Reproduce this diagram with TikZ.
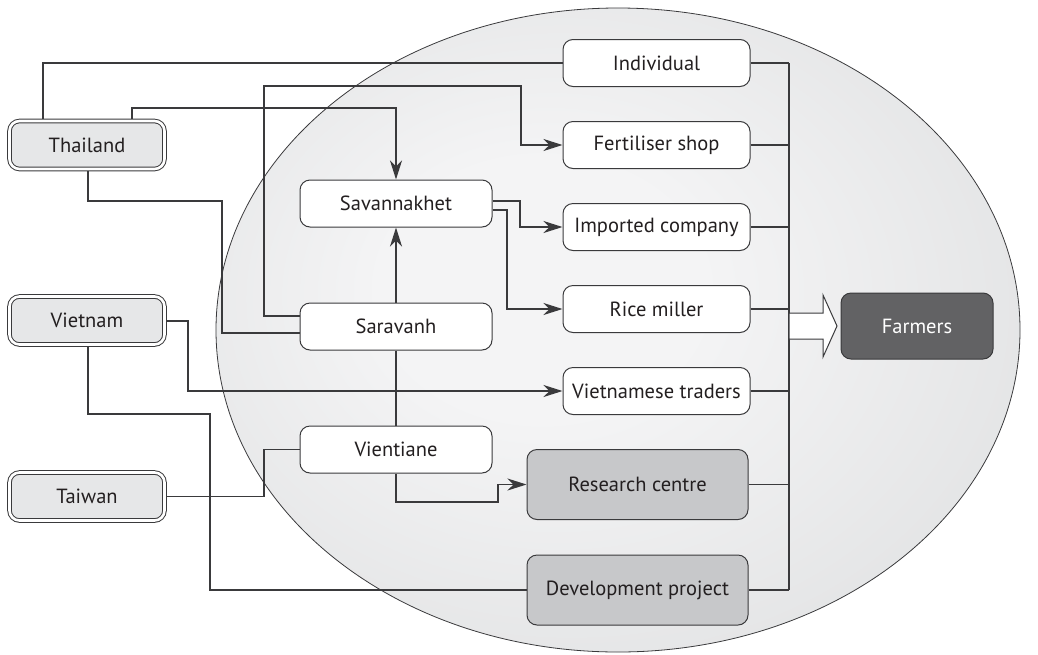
\documentclass[tikz,border=0pt]{standalone}
\usepackage{fontspec}
\setmainfont{PT Sans}
\usetikzlibrary{arrows.meta}
\definecolor{ln}{HTML}{3A3A3C}
\definecolor{tx}{HTML}{231F20}
\definecolor{gfill}{HTML}{C7C8CA}
\definecolor{cfill}{HTML}{E6E7E8}
\definecolor{dark}{HTML}{626264}
\definecolor{eA}{HTML}{F4F4F5}
\definecolor{eB}{HTML}{E0E1E2}
\definecolor{eC}{HTML}{C3C4C6}
\pgfdeclareradialshading{ellshade}{\pgfpoint{-6bp}{4bp}}{color(0bp)=(eA); color(10bp)=(eA); color(34bp)=(eB); color(50bp)=(eC)}
\pgfdeclarelayer{back}
\pgfdeclarelayer{mid}
\pgfsetlayers{back,mid,main}
\tikzset{
  cn/.style={draw=ln, line width=1.3pt},
  arr/.style={cn, -{Stealth[length=19pt,width=12pt,inset=6pt]}},
  rbox/.style={rounded corners=10pt, draw=ln, line width=1pt, inner sep=0pt, font=\fontsize{20.5}{23}\selectfont, text=tx},
  wbox/.style={rbox, fill=white, minimum width=187pt, minimum height=47pt},
  cityb/.style={rbox, fill=white, minimum width=192pt, minimum height=47pt},
  gbox/.style={rbox, fill=gfill, minimum width=221pt, minimum height=70pt},
  cbox/.style={rbox, fill=cfill, double=white, double distance=2.6pt, minimum width=155pt, minimum height=48pt},
  fbox/.style={rbox, fill=dark, text=white, minimum width=152pt, minimum height=66pt},
}
\begin{document}
\begin{tikzpicture}[x=1pt,y=-1pt]
\useasboundingbox (0,0) rectangle (1038,654);
\begin{pgfonlayer}{back}
\shade[shading=ellshade, draw=ln, line width=0.8pt] (618,330) ellipse [x radius=402, y radius=322];
\end{pgfonlayer}

% countries
\node[cbox] (tha) at (87,145) {Thailand};
\node[cbox] (vtn) at (87,320.5) {Vietnam};
\node[cbox] (twn) at (87,496.5) {Taiwan};

% provinces
\node[cityb] (sav) at (396,203.5) {Savannakhet};
\node[cityb] (sar) at (396,326.5) {Saravanh};
\node[cityb] (vie) at (396,449.5) {Vientiane};

% channels
\node[wbox] (ind) at (656.5,63) {Individual};
\node[wbox] (fert) at (656.5,145) {Fertiliser shop};
\node[wbox] (imp) at (656.5,227) {Imported company};
\node[wbox] (rice) at (656.5,309) {Rice miller};
\node[wbox] (vtr) at (656.5,391) {Vietnamese traders};
\node[gbox] (res) at (637.5,484.5) {Research centre};
\node[gbox] (dev) at (637.5,590) {Development project};

\node[fbox] (far) at (917,326) {Farmers};

\coordinate (busT) at (789,63);
\coordinate (busB) at (789,590);

\begin{pgfonlayer}{mid}
\draw[cn] (tha.north -| 43,0) -- (43,63) -- (ind.west);
\draw[arr] (tha.north -| 132,0) -- (132,108) -- (396,108) -- (sav.north);
\draw[cn] (tha.south -| 88,0) -- (88,201) -- (222,201) -- (222,333) -- (sar.west |- 0,333);
\draw[arr] (sar.west |- 0,316) -- (264,316) -- (264,86) -- (521,86) -- (521,145) -- (fert.west);
\draw[arr] (sar.north) -- (sav.south);
\draw[cn] (sar.south) -- (vie.north);
\draw[arr] (sav.east |- 0,201) -- (520,201) -- (520,227) -- (imp.west);
\draw[arr] (sav.east |- 0,210) -- (507,210) -- (507,309) -- (rice.west);
\draw[arr] (vtn.east |- 0,321) -- (188,321) -- (188,391) -- (vtr.west);
\draw[cn] (vtn.south -| 88,0) -- (88,414) -- (210,414) -- (210,590) -- (dev.west);
\draw[cn] (twn.east) -- (264,496.5) -- (264,449.5) -- (vie.west);
\draw[arr] (vie.south) -- (396,502) -- (498,502) -- (498,484.5) -- (res.west);
% bus to farmers
\draw[cn] (ind.east) -- (busT);
\draw[cn] (fert.east) -- (789,145);
\draw[cn] (imp.east) -- (789,227);
\draw[cn] (rice.east) -- (789,309);
\draw[cn] (vtr.east) -- (789,391);
\draw[cn] (res.east) -- (789,484.5);
\draw[cn] (dev.east) -- (busB);
\draw[cn] (busT) -- (busB);
\end{pgfonlayer}

% block arrow
\draw[draw=ln, line width=1pt, fill=white, line join=miter] (789,313) -- (823,313) -- (823,295) -- (837,326) -- (823,357) -- (823,339) -- (789,339) -- cycle;
\end{tikzpicture}
\end{document}
